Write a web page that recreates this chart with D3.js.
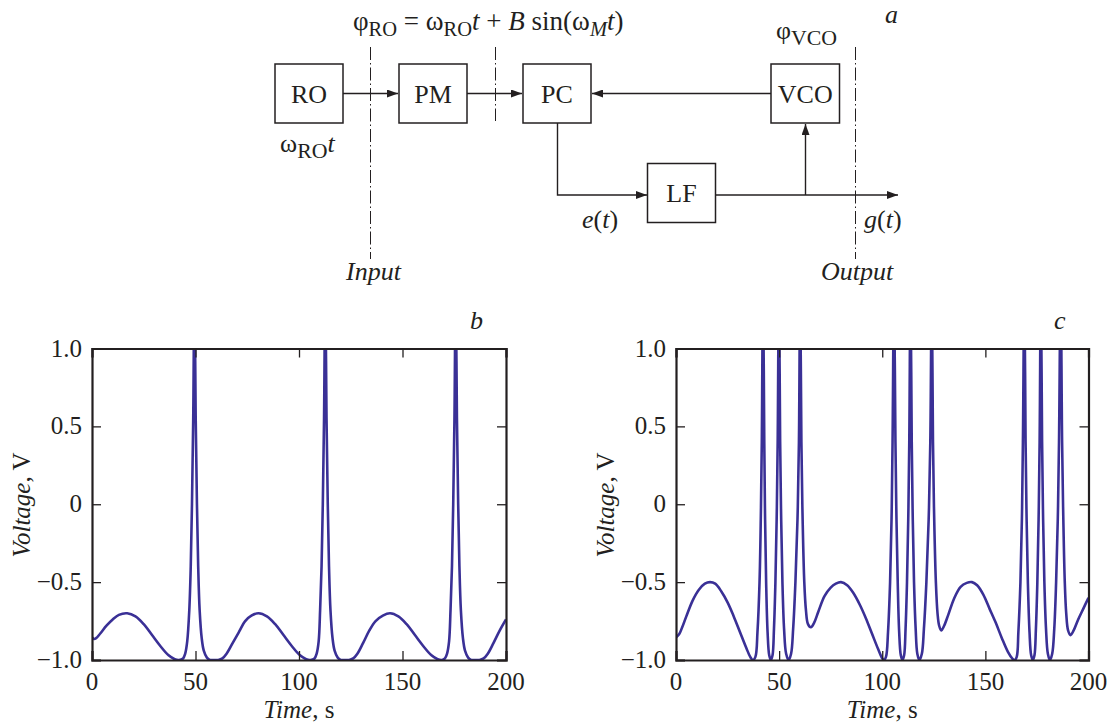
<!DOCTYPE html>
<html>
<head>
<meta charset="utf-8">
<script src="https://cdn.jsdelivr.net/npm/d3@7"></script>
<style>
  html, body { margin: 0; padding: 0; background: #fff; }
  svg { display: block; }
  text { font-family: "Liberation Serif", serif; fill: #231f20; }
</style>
</head>
<body>
<div id="chart"></div>
<script>
// values
var timeTicks = [0, 50, 100, 150, 200];
var voltageTicks = [-1, -0.5, 0, 0.5, 1];
var voltageLabels = ["\u22121.0", "\u22120.5", "0", "0.5", "1.0"];

var timeB = [0, 1, 2, 4, 7, 10, 13, 17, 21, 25, 29, 33, 37, 40, 42, 44, 45, 46, 47, 47.7, 48.3, 48.9, 49.5, 50.1, 50.7, 51.3, 52, 53, 54, 55.5, 57, 59, 61, 63, 65, 68, 71, 74, 77, 80.5,
  84.5, 88.5, 92.5, 96.5, 100.5, 103.5, 105.5, 107.5, 108.5, 109.5, 110.2, 110.9, 111.5, 112.1, 112.7, 113.3, 113.9, 114.5, 115.2, 116.2, 117.2, 118.7, 120.2, 122.2, 124.2, 126.2, 128.2, 131, 134, 137, 140.5, 144,
  148, 152, 156, 160, 164, 167, 169, 170.5, 171.5, 172.5, 173.2, 173.9, 174.5, 175.1, 175.7, 176.3, 176.9, 177.5, 178.2, 179.2, 180.2, 181.7, 183.2, 185.2, 187.2, 189.2, 191.2, 194, 197, 200];
var voltageB = [-0.855, -0.865, -0.86, -0.83, -0.78, -0.74, -0.71, -0.70, -0.72, -0.77, -0.84, -0.91, -0.97, -0.995, -1, -0.99, -0.96, -0.88, -0.68, -0.4, 0, 0.55, 1.4, 0.55, 0, -0.4, -0.68, -0.86, -0.94, -0.985, -1, -1, -1, -0.99, -0.96, -0.89, -0.82, -0.75, -0.715, -0.70,
  -0.72, -0.77, -0.84, -0.91, -0.97, -0.995, -1, -0.99, -0.96, -0.88, -0.68, -0.4, 0, 0.55, 1.4, 0.55, 0, -0.4, -0.68, -0.86, -0.94, -0.985, -1, -1, -1, -0.99, -0.96, -0.89, -0.81, -0.75, -0.715, -0.70,
  -0.72, -0.77, -0.84, -0.91, -0.97, -0.995, -1, -0.99, -0.96, -0.88, -0.68, -0.4, 0, 0.55, 1.4, 0.55, 0, -0.4, -0.68, -0.86, -0.94, -0.985, -1, -1, -1, -0.99, -0.96, -0.89, -0.81, -0.74];

var timeC = [0, 1.5, 3, 5, 8, 11, 14, 16.5, 19, 22, 25, 28, 31, 34, 36, 37.3, 38.5, 39.5, 40.5, 41.1, 41.6, 42.2, 42.8, 43.2, 43.7, 44.4, 45.2, 46, 46.8, 47.5, 48.2, 48.8, 49.3, 49.9, 50.5, 51, 51.6, 52.4, 53.4, 54.6, 55.8, 56.8, 57.9, 58.9, 59.6, 60.2, 60.8, 61.4, 62.2, 63, 64, 65.4, 67, 69, 72, 75, 77.5, 80,
  83, 86, 89.3, 92, 95, 98, 100, 100.8, 101.8, 102.8, 103.8, 104.5, 105, 105.7, 106.4, 106.9, 107.5, 108.2, 109, 109.8, 110.6, 111.3, 112, 112.6, 113.1, 113.7, 114.3, 114.8, 115.4, 116.2, 117, 118, 119.2, 120.2, 121.4, 122.5, 123.3, 124, 124.6, 125.2, 126, 126.8, 127.6, 128.6, 130, 132, 135, 138, 141, 143.5,
  146, 149, 152, 155, 158, 161, 163, 164.2, 165.2, 166, 167, 167.7, 168.2, 168.9, 169.5, 170, 170.6, 171.4, 172.2, 173, 173.8, 174.5, 175.2, 175.8, 176.3, 176.9, 177.5, 178, 178.6, 179.4, 180.3, 181.3, 182.4, 183.4, 184.3, 185.1, 185.7, 186.5, 187.2, 187.8, 188.5, 189.2, 190.1, 191.3, 192.8, 195, 197.5, 200];
var voltageC = [-0.855, -0.835, -0.79, -0.72, -0.62, -0.55, -0.51, -0.50, -0.51, -0.56, -0.63, -0.72, -0.82, -0.92, -0.98, -1, -0.98, -0.82, -0.5, -0.1, 0.4, 1.4, 0.4, -0.1, -0.5, -0.82, -0.97, -1, -0.97, -0.8, -0.5, -0.1, 0.4, 1.4, 0.4, -0.1, -0.5, -0.8, -0.96, -1, -0.96, -0.8, -0.5, -0.1, 0.4, 1.4, 0.4, -0.1, -0.5, -0.68, -0.77, -0.79, -0.76, -0.69, -0.59, -0.535, -0.51, -0.5,
  -0.52, -0.57, -0.65, -0.73, -0.83, -0.93, -0.99, -1, -0.98, -0.82, -0.5, -0.1, 0.4, 1.4, 0.4, -0.1, -0.5, -0.82, -0.97, -1, -0.97, -0.8, -0.5, -0.1, 0.4, 1.4, 0.4, -0.1, -0.5, -0.8, -0.96, -1, -0.96, -0.8, -0.5, -0.1, 0.4, 1.4, 0.4, -0.1, -0.5, -0.7, -0.78, -0.81, -0.78, -0.71, -0.6, -0.53, -0.505, -0.5,
  -0.52, -0.58, -0.67, -0.76, -0.86, -0.95, -0.99, -1, -0.98, -0.82, -0.5, -0.1, 0.4, 1.4, 0.4, -0.1, -0.5, -0.82, -0.97, -1, -0.97, -0.8, -0.5, -0.1, 0.4, 1.4, 0.4, -0.1, -0.5, -0.8, -0.96, -1, -0.96, -0.8, -0.5, -0.1, 0.4, 1.4, 0.4, -0.1, -0.5, -0.7, -0.81, -0.84, -0.81, -0.74, -0.67, -0.6];

var ink = "#231f20";
var traceColor = "#3a3096";

var svg = d3.select("#chart")
  .append("svg")
    .attr("width", 1112)
    .attr("height", 725);

// arrow head used by the block diagram
svg.append("defs").append("marker")
    .attr("id", "head")
    .attr("viewBox", "0 0 11 8")
    .attr("refX", 11)
    .attr("refY", 4)
    .attr("markerWidth", 11)
    .attr("markerHeight", 8)
    .attr("markerUnits", "userSpaceOnUse")
    .attr("orient", "auto")
  .append("path")
    .attr("d", "M0,0L11,4L0,8Z")
    .attr("fill", ink);

// ---- block diagram (a) ----
var blocks = [
  {name: "RO", x: 275, y: 64, w: 68, h: 59},
  {name: "PM", x: 399, y: 64, w: 68, h: 59},
  {name: "PC", x: 523, y: 64, w: 68, h: 59},
  {name: "VCO", x: 771, y: 64, w: 68.5, h: 59},
  {name: "LF", x: 647.5, y: 163.5, w: 68, h: 59}
];

svg.selectAll(".block")
  .data(blocks)
  .enter().append("rect")
    .attr("x", d => d.x)
    .attr("y", d => d.y)
    .attr("width", d => d.w)
    .attr("height", d => d.h)
    .attr("fill", "none")
    .attr("stroke", ink)
    .attr("stroke-width", 1.5);

svg.selectAll(".blockname")
  .data(blocks)
  .enter().append("text")
    .attr("x", d => d.x + d.w / 2)
    .attr("y", d => d.y + d.h / 2 + 9)
    .attr("text-anchor", "middle")
    .attr("font-size", 26)
    .text(d => d.name);

var wires = [
  {d: "M343,93.5H398"},
  {d: "M467,93.5H522"},
  {d: "M771,93.5H592"},
  {d: "M557.5,123V195H647"},
  {d: "M715.5,195H898"},
  {d: "M805.5,195V124"}
];

svg.selectAll(".wire")
  .data(wires)
  .enter().append("path")
    .attr("d", d => d.d)
    .attr("fill", "none")
    .attr("stroke", ink)
    .attr("stroke-width", 1.4)
    .attr("marker-end", "url(#head)");

// dash-dot section lines
var sections = [
  {x: 370.5, y1: 47, y2: 259},
  {x: 495.5, y1: 47, y2: 121},
  {x: 855.5, y1: 47, y2: 259}
];

svg.selectAll(".section")
  .data(sections)
  .enter().append("line")
    .attr("x1", d => d.x)
    .attr("x2", d => d.x)
    .attr("y1", d => d.y1)
    .attr("y2", d => d.y2)
    .attr("stroke", ink)
    .attr("stroke-width", 1)
    .attr("stroke-dasharray", "13 3 1.5 3");

// text with sub/superscripts, each part is [text, italic, sub]
function richText(x, y, parts, size, subScale) {
  var t = svg.append("text")
    .attr("x", x)
    .attr("y", y)
    .attr("font-size", size);
  var shifted = false;
  parts.forEach(function(p) {
    var s = t.append("tspan")
      .attr("font-style", p[1] ? "italic" : "normal")
      .text(p[0]);
    if (p[2]) s.attr("font-size", size * (subScale || 0.84));
    if (p[2] && !shifted) s.attr("dy", 6);
    if (!p[2] && shifted) s.attr("dy", -6);
    shifted = !!p[2];
  });
  return t;
}

richText(353, 30, [["\u03c6"], ["RO", 0, 1], [" = \u03c9"], ["RO", 0, 1], ["t", 1], [" + "], ["B", 1], [" sin(\u03c9"], ["M", 1, 1], ["t", 1], [")"]], 27, 0.76);
richText(280, 152, [["\u03c9"], ["RO", 0, 1], ["t", 1]], 26);
richText(776, 39, [["\u03c6"], ["VCO", 0, 1]], 26);
richText(582, 228, [["e", 1], ["("], ["t", 1], [")"]], 26);
richText(864, 228, [["g", 1], ["("], ["t", 1], [")"]], 26);
richText(346, 280, [["Input", 1]], 26);
richText(821, 280, [["Output", 1]], 26);
richText(885, 23, [["a", 1]], 26);
richText(470, 329, [["b", 1]], 26);
richText(1054, 329, [["c", 1]], 26);

// ---- time traces (b, c) ----
function drawPanel(left, right, times, voltages, clipId, labelX) {
  var top = 348.5, bottom = 660;
  var x = d3.scaleLinear().domain([0, 200]).range([left, right]);
  var y = d3.scaleLinear().domain([-1, 1]).range([bottom, top]);

  svg.append("clipPath")
      .attr("id", clipId)
    .append("rect")
      .attr("x", left)
      .attr("y", top)
      .attr("width", right - left)
      .attr("height", bottom - top);

  var line = d3.line()
    .x(i => x(times[i]))
    .y(i => y(voltages[i]))
    .curve(d3.curveCatmullRom.alpha(0.5));

  svg.append("path")
    .attr("d", line(d3.range(times.length)))
    .attr("clip-path", "url(#" + clipId + ")")
    .attr("fill", "none")
    .attr("stroke", traceColor)
    .attr("stroke-width", 2.6)
    .attr("stroke-linejoin", "round");

  // four sides, ticks point inward, only bottom and left have labels
  var bottomAxis = svg.append("g")
    .attr("transform", "translate(0," + bottom + ")")
    .call(d3.axisTop(x).tickValues(timeTicks).tickSize(9).tickPadding(0).tickFormat(""));
  var topAxis = svg.append("g")
    .attr("transform", "translate(0," + top + ")")
    .call(d3.axisBottom(x).tickValues(timeTicks).tickSize(9).tickFormat(""));
  var leftAxis = svg.append("g")
    .attr("transform", "translate(" + left + ",0)")
    .call(d3.axisRight(y).tickValues(voltageTicks).tickSize(9).tickFormat(""));
  var rightAxis = svg.append("g")
    .attr("transform", "translate(" + right + ",0)")
    .call(d3.axisLeft(y).tickValues(voltageTicks).tickSize(9).tickFormat(""));

  [bottomAxis, topAxis, leftAxis, rightAxis].forEach(function(a) {
    a.selectAll(".domain").attr("stroke", ink).attr("stroke-width", 2.2);
    a.selectAll(".tick line").attr("stroke", ink).attr("stroke-width", 1.3);
  });

  svg.selectAll(null)
    .data(timeTicks)
    .enter().append("text")
      .attr("x", d => x(d))
      .attr("y", 690)
      .attr("text-anchor", "middle")
      .attr("font-size", 25)
      .text(d => d);

  svg.selectAll(null)
    .data(voltageTicks)
    .enter().append("text")
      .attr("x", left - 10)
      .attr("y", d => y(d) + 8)
      .attr("text-anchor", "end")
      .attr("font-size", 25)
      .text((d, i) => voltageLabels[i]);

  // axis titles
  var xTitle = svg.append("text")
    .attr("x", (left + right) / 2)
    .attr("y", 718)
    .attr("text-anchor", "middle")
    .attr("font-size", 25);
  xTitle.append("tspan").attr("font-style", "italic").text("Time");
  xTitle.append("tspan").text(", s");

  var yTitle = svg.append("text")
    .attr("transform", "translate(" + labelX + ",505) rotate(-90)")
    .attr("text-anchor", "middle")
    .attr("font-size", 25);
  yTitle.append("tspan").attr("font-style", "italic").text("Voltage");
  yTitle.append("tspan").text(", V");
}

drawPanel(92, 506, timeB, voltageB, "clip-b", 30);
drawPanel(676, 1088.5, timeC, voltageC, "clip-c", 614);
</script>
</body>
</html>
